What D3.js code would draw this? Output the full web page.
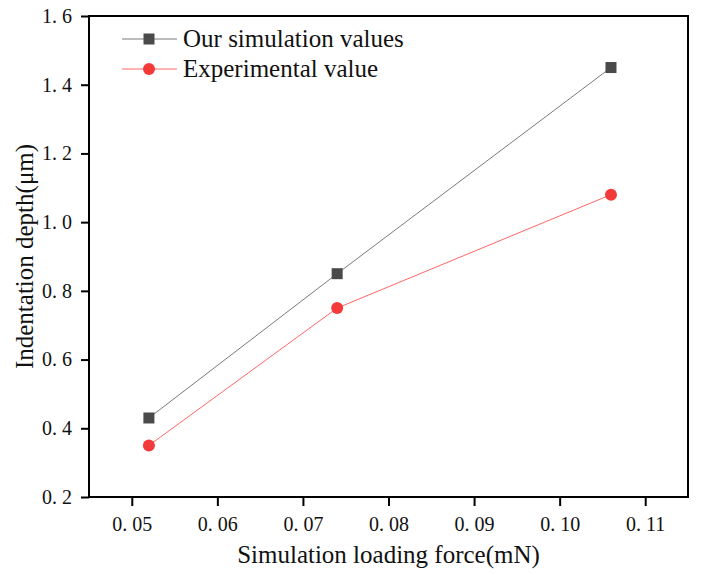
<!DOCTYPE html>
<html lang="en">
<head>
  <meta charset="UTF-8">
  <title>Indentation depth</title>
  <script src="https://d3js.org/d3.v7.min.js"></script>
  <style>
    html, body { margin: 0; padding: 0; background: #fff; }
    text { font-family: "Liberation Serif", "Times New Roman", serif; fill: #111; }
    .axis path, .axis line { stroke: #000; stroke-width: 2; }
  </style>
</head>
<body>
  <div id="container"></div>
  <script>
    const width = 702;
    const height = 575;
    const margin = { top: 16, right: 14, bottom: 78, left: 89 };

    // data
    const force = [0.052, 0.074, 0.106];
    const simValues = [0.43, 0.85, 1.45];
    const expValues = [0.35, 0.75, 1.08];
    const xTicks = [0.05, 0.06, 0.07, 0.08, 0.09, 0.10, 0.11];
    const yTicks = [0.2, 0.4, 0.6, 0.8, 1.0, 1.2, 1.4, 1.6];
    const seriesNames = ['Our simulation values', 'Experimental value'];

    const svg = d3.select('#container').append('svg')
      .attr('width', width).attr('height', height);

    const xScale = d3.scaleLinear().domain([0.045, 0.115])
      .range([margin.left, width - margin.right]);
    const yScale = d3.scaleLinear().domain([0.2, 1.6])
      .range([height - margin.bottom, margin.top]);

    // frame
    svg.append('rect')
      .attr('x', margin.left).attr('y', margin.top)
      .attr('width', width - margin.right - margin.left)
      .attr('height', height - margin.bottom - margin.top)
      .attr('fill', 'none').attr('stroke', '#000').attr('stroke-width', 2);

    const fmt = (d, n) => d3.format('.' + n + 'f')(d).replace('.', '. ');
    const serif = '"Liberation Serif", "Times New Roman", serif';

    svg.append('g').attr('class', 'axis')
      .attr('transform', `translate(0,${height - margin.bottom})`)
      .call(d3.axisBottom(xScale).tickValues(xTicks).tickSize(9).tickPadding(11)
        .tickFormat(d => fmt(d, 2)))
      .call(g => g.select('.domain').remove());

    svg.append('g').attr('class', 'axis')
      .attr('transform', `translate(${margin.left},0)`)
      .call(d3.axisLeft(yScale).tickValues(yTicks).tickSize(8).tickPadding(9)
        .tickFormat(d => fmt(d, 1)))
      .call(g => g.select('.domain').remove());

    svg.selectAll('.axis text')
      .style('font-family', serif).style('font-size', '20px')
      .style('white-space', 'pre').attr('fill', '#222');

    // axis titles
    svg.append('text')
      .attr('x', (margin.left + width - margin.right) / 2).attr('y', 563)
      .attr('text-anchor', 'middle').attr('font-size', 25)
      .text('Simulation loading force(mN)');
    svg.append('text')
      .attr('transform', `translate(33,${(margin.top + height - margin.bottom) / 2}) rotate(-90)`)
      .attr('text-anchor', 'middle').attr('font-size', 25)
      .text('Indentation depth(μm)');

    const line = d3.line().x(d => xScale(d[0])).y(d => yScale(d[1]));

    const simPts = force.map((f, i) => [f, simValues[i]]);
    const expPts = force.map((f, i) => [f, expValues[i]]);

    svg.append('path').datum(simPts).attr('d', line)
      .attr('fill', 'none').attr('stroke', '#7a7a7a').attr('stroke-width', 1);
    svg.append('path').datum(expPts).attr('d', line)
      .attr('fill', 'none').attr('stroke', '#f66').attr('stroke-width', 1);

    svg.selectAll('.sq').data(simPts).join('rect').attr('class', 'sq')
      .attr('x', d => xScale(d[0]) - 5.5).attr('y', d => yScale(d[1]) - 5.5)
      .attr('width', 11).attr('height', 11).attr('fill', '#4a4a4a');

    svg.selectAll('.dot').data(expPts).join('circle').attr('class', 'dot')
      .attr('cx', d => xScale(d[0])).attr('cy', d => yScale(d[1]))
      .attr('r', 6).attr('fill', '#f33a3a');

    // legend
    const legend = svg.append('g');
    const rows = [
      { y: 39, stroke: '#7a7a7a', fill: '#4a4a4a', shape: 'square' },
      { y: 69, stroke: '#f66', fill: '#f33a3a', shape: 'circle' }
    ];
    rows.forEach((r, i) => {
      legend.append('line').attr('x1', 122).attr('x2', 177)
        .attr('y1', r.y).attr('y2', r.y).attr('stroke', r.stroke).attr('stroke-width', 1);
      if (r.shape === 'square') {
        legend.append('rect').attr('x', 149 - 5.5).attr('y', r.y - 5.5)
          .attr('width', 11).attr('height', 11).attr('fill', r.fill);
      } else {
        legend.append('circle').attr('cx', 149).attr('cy', r.y).attr('r', 6).attr('fill', r.fill);
      }
      legend.append('text').attr('x', 183).attr('y', r.y + 8)
        .attr('font-size', 25).text(seriesNames[i]);
    });
  </script>
</body>
</html>
